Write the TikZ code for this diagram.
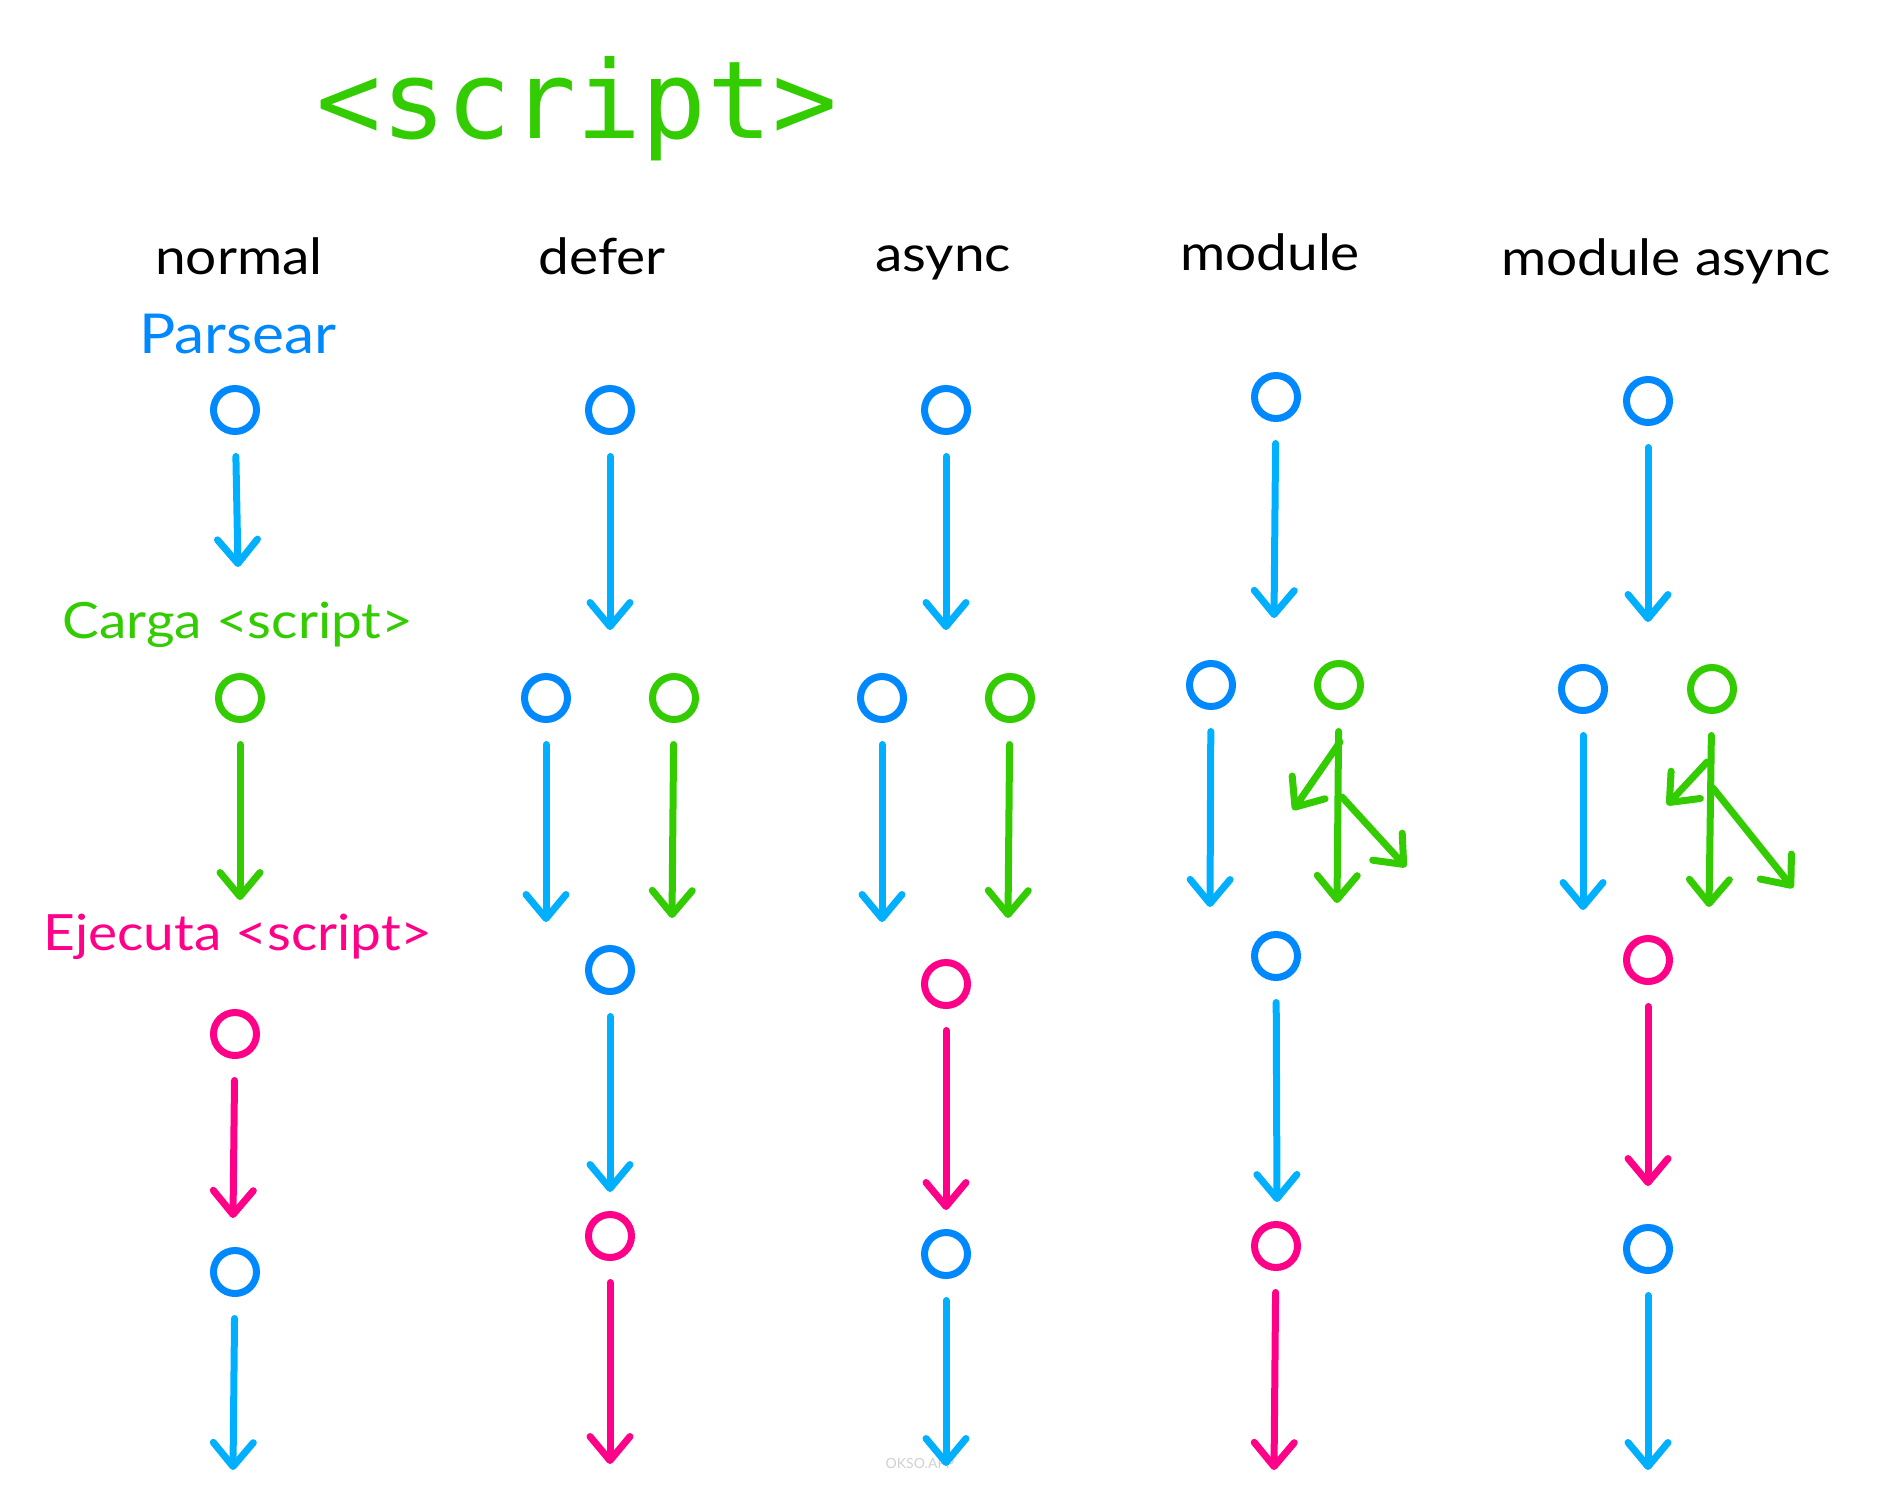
\documentclass[tikz,border=0pt]{standalone}
\usepackage{fontspec}
\setmainfont{Lato}
\newfontfamily\titlefont{DejaVu Sans Mono}
\newfontfamily\handfont{Lato}[FakeStretch=1.1]
\usetikzlibrary{arrows.meta}
\definecolor{cblue}{HTML}{0088FF}
\definecolor{ablue}{HTML}{00B0FF}
\definecolor{cgreen}{HTML}{33CC00}
\definecolor{cpink}{HTML}{FF0088}
\begin{document}
\begin{tikzpicture}[x=1pt,y=-1pt,
 dot/.style={circle,draw,line width=7pt,minimum size=43pt,inner sep=0pt,outer sep=0pt},
 bdot/.style={dot,draw=cblue},
 gdot/.style={dot,draw=cgreen},
 pdot/.style={dot,draw=cpink},
 arrbase/.style={line width=7pt,line cap=round,-{Straight Barb[length=24pt,width=40pt,round]}},
 arr/.style={arrbase,shorten <=25pt},
 barr/.style={arr,draw=ablue},
 garr/.style={arr,draw=cgreen},
 parr/.style={arr,draw=cpink},
 brarr/.style={arrbase,draw=cgreen},
 lbl/.style={font=\handfont\fontsize{50}{50}\selectfont,anchor=base,inner sep=0pt}
]
\useasboundingbox (0,0) rectangle (1881,1501);
\fill[white] (0,0) rectangle (1881,1501);

% title and headers
\node[anchor=base,inner sep=0pt,text=cgreen,font=\titlefont\fontsize{108}{108}\selectfont] (title) at (577,139) {<script>};
\node[lbl] (hnormal) at (239,274) {normal};
\node[lbl] (hdefer) at (602,274) {defer};
\node[lbl] (hasync) at (943,271) {async};
\node[lbl] (hmodule) at (1270,270) {module};
\node[lbl] (hmasync) at (1666,275) {module async};
\node[lbl,text=cblue,font=\handfont\fontsize{55}{55}\selectfont] (lparse) at (238,353) {Parsear};
\node[lbl,text=cgreen] (lcarga) at (238,638) {Carga <script>};
\node[lbl,text=cpink] (lejec) at (238,950) {Ejecuta <script>};
\node[anchor=center,inner sep=0pt,text=black!18,font=\fontsize{14}{14}\selectfont] (wm) at (920,1463) {OKSO.APP};

% column 1: normal
\node[bdot] (n11) at (235,410) {};
\node[gdot] (n12) at (240,698) {};
\node[pdot] (n13) at (235,1034) {};
\node[bdot] (n14) at (235,1272) {};
\coordinate (e11) at (238,567);
\coordinate (e12) at (240,900);
\coordinate (e13) at (233,1218);
\coordinate (e14) at (233,1470);
\draw[barr] (n11) -- (e11);
\draw[garr] (n12) -- (e12);
\draw[parr] (n13) -- (e13);
\draw[barr] (n14) -- (e14);

% column 2: defer
\node[bdot] (n21) at (610,410) {};
\node[bdot] (n22) at (546,698) {};
\node[gdot] (n23) at (674,698) {};
\node[bdot] (n24) at (610,970) {};
\node[pdot] (n25) at (610,1236) {};
\coordinate (e21) at (610,630);
\coordinate (e22) at (546,922);
\coordinate (e23) at (672,918);
\coordinate (e24) at (610,1192);
\coordinate (e25) at (610,1464);
\draw[barr] (n21) -- (e21);
\draw[barr] (n22) -- (e22);
\draw[garr] (n23) -- (e23);
\draw[barr] (n24) -- (e24);
\draw[parr] (n25) -- (e25);

% column 3: async
\node[bdot] (n31) at (946,410) {};
\node[bdot] (n32) at (882,698) {};
\node[gdot] (n33) at (1010,698) {};
\node[pdot] (n34) at (946,984) {};
\node[bdot] (n35) at (946,1254) {};
\coordinate (e31) at (946,630);
\coordinate (e32) at (882,922);
\coordinate (e33) at (1008,918);
\coordinate (e34) at (946,1210);
\coordinate (e35) at (946,1466);
\draw[barr] (n31) -- (e31);
\draw[barr] (n32) -- (e32);
\draw[garr] (n33) -- (e33);
\draw[parr] (n34) -- (e34);
\draw[barr] (n35) -- (e35);

% column 4: module
\node[bdot] (n41) at (1276,397) {};
\node[bdot] (n42) at (1211,685) {};
\node[gdot] (n43) at (1339,685) {};
\node[bdot] (n44) at (1276,956) {};
\node[pdot] (n45) at (1276,1246) {};
\coordinate (e41) at (1274,618);
\coordinate (e42) at (1210,907);
\coordinate (e43) at (1337,903);
\coordinate (e44) at (1277,1202);
\coordinate (e45) at (1274,1470);
\coordinate (b4a) at (1340,742);
\coordinate (t4a) at (1293,810);
\coordinate (b4b) at (1342,797);
\coordinate (t4b) at (1406,867);
\draw[barr] (n41) -- (e41);
\draw[barr] (n42) -- (e42);
\draw[garr] (n43) -- (e43);
\draw[brarr] (b4a) -- (t4a);
\draw[brarr] (b4b) -- (t4b);
\draw[barr] (n44) -- (e44);
\draw[parr] (n45) -- (e45);

% column 5: module async
\node[bdot] (n51) at (1648,401) {};
\node[bdot] (n52) at (1583,689) {};
\node[gdot] (n53) at (1712,689) {};
\node[pdot] (n54) at (1648,960) {};
\node[bdot] (n55) at (1648,1249) {};
\coordinate (e51) at (1648,622);
\coordinate (e52) at (1583,910);
\coordinate (e53) at (1709,907);
\coordinate (e54) at (1648,1186);
\coordinate (e55) at (1648,1470);
\coordinate (b5a) at (1707,762);
\coordinate (t5a) at (1667,805);
\coordinate (b5b) at (1713,788);
\coordinate (t5b) at (1793,888);
\draw[barr] (n51) -- (e51);
\draw[barr] (n52) -- (e52);
\draw[garr] (n53) -- (e53);
\draw[brarr] (b5a) -- (t5a);
\draw[brarr] (b5b) -- (t5b);
\draw[parr] (n54) -- (e54);
\draw[barr] (n55) -- (e55);
\end{tikzpicture}
\end{document}
